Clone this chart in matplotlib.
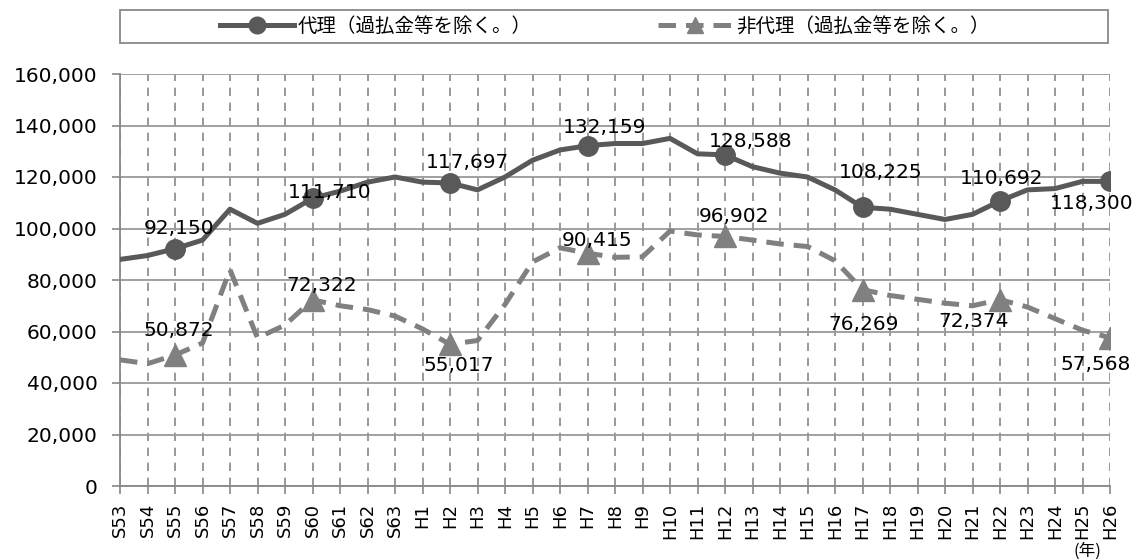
import matplotlib.pyplot as plt
from matplotlib.patches import Rectangle
from matplotlib.ticker import FuncFormatter

plt.rcParams['font.family'] = ['DejaVu Sans', 'Noto Sans CJK JP']

# データ
years = ['S53', 'S54', 'S55', 'S56', 'S57', 'S58', 'S59', 'S60', 'S61', 'S62', 'S63',
         'H1', 'H2', 'H3', 'H4', 'H5', 'H6', 'H7', 'H8', 'H9', 'H10', 'H11', 'H12',
         'H13', 'H14', 'H15', 'H16', 'H17', 'H18', 'H19', 'H20', 'H21', 'H22', 'H23',
         'H24', 'H25', 'H26']
daiko = [88000, 89500, 92150, 95500, 107500, 102000, 105500, 111710, 114500, 118000,
         120000, 118000, 117697, 115000, 120000, 126500, 130500, 132159, 133000, 133000,
         135000, 129000, 128588, 124000, 121500, 120000, 115000, 108225, 107500, 105500,
         103500, 105500, 110692, 115000, 115500, 118300, 118300]
hidaiko = [49000, 47500, 50872, 55500, 84000, 57500, 62500, 72322, 70000, 68500,
           66000, 61000, 55017, 56500, 70500, 87000, 92500, 90415, 88800, 89000,
           99000, 97500, 96902, 95500, 94000, 93000, 87500, 76269, 74000, 72500,
           71000, 70000, 72374, 69500, 65000, 60500, 57568]
mark_idx = [2, 7, 12, 17, 22, 27, 32, 36]

# ラベル位置(ピクセル)
off_daiko = [(4, 20), (17, 6), (17, 20), (17, 18), (26, 13), (18, 35), (2, 22), (-18, -22)]
off_hidaiko = [(4, 25), (9, 14), (9, -21), (10, 13), (9, 20), (1, -35), (-26, -22), (-14, -27)]

fig = plt.figure(figsize=(11.43, 5.6), dpi=100)
ax = fig.add_axes([120 / 1143, 1 - 486 / 560, 990 / 1143, 412 / 560])

x = list(range(len(years)))
ax.plot(x, daiko, color='#595959', lw=3.6, marker='o', ms=14, markevery=mark_idx,
        label='代理（過払金等を除く。）', zorder=4)
ax.plot(x, hidaiko, color='#808080', lw=3.6, ls=(0, (3.5, 2)), marker='^', ms=16,
        markevery=mark_idx, label='非代理（過払金等を除く。）', zorder=3)

for i, (dx, dy) in zip(mark_idx, off_daiko):
    ax.annotate(f'{daiko[i]:,}', (i, daiko[i]), xytext=(dx, dy), textcoords='offset pixels',
                ha='center', va='center', fontsize=14.5, zorder=6)
for i, (dx, dy) in zip(mark_idx, off_hidaiko):
    ax.annotate(f'{hidaiko[i]:,}', (i, hidaiko[i]), xytext=(dx, dy), textcoords='offset pixels',
                ha='center', va='center', fontsize=14.5, zorder=6)

ax.set_xlim(0, len(years) - 1)
ax.set_ylim(0, 160000)
ax.set_yticks(range(0, 160001, 20000))
ax.yaxis.set_major_formatter(FuncFormatter(lambda v, p: f'{int(v):,}'))
ax.set_xticks(x)
ax.set_xticklabels(years, rotation=90)
ax.tick_params(axis='both', color='#888888', length=6, width=1.2)
ax.tick_params(axis='x', labelsize=13, pad=6)
ax.tick_params(axis='y', labelsize=14.5, pad=10)

ax.grid(axis='y', color='#999999', lw=1.3)
ax.grid(axis='x', color='#888888', lw=1.2, ls=(0, (5, 4)))
ax.set_axisbelow(True)
for s in ['top', 'right']:
    ax.spines[s].set_visible(False)
for s in ['left', 'bottom']:
    ax.spines[s].set_color('#888888')
    ax.spines[s].set_linewidth(1.3)

fig.text(1087 / 1143, 1 - 551 / 560, '(年)', ha='center', va='center', fontsize=12,
         family=['Noto Sans CJK JP', 'DejaVu Sans'])

# 凡例
fig.patches.append(Rectangle((120 / 1143, 1 - 43 / 560), 988 / 1143, 33 / 560,
                             transform=fig.transFigure, fill=False, edgecolor='#888888', lw=1.3))
leg = fig.legend(loc='center', bbox_to_anchor=(605 / 1143, 1 - 26 / 560), ncol=2,
                 frameon=False, handlelength=3.8, columnspacing=6.5,
                 handletextpad=0.2, prop={'family': ['Noto Sans CJK JP', 'DejaVu Sans'], 'size': 14})
for h in leg.legend_handles:
    h.set_markersize(12)

plt.savefig('out.png')
